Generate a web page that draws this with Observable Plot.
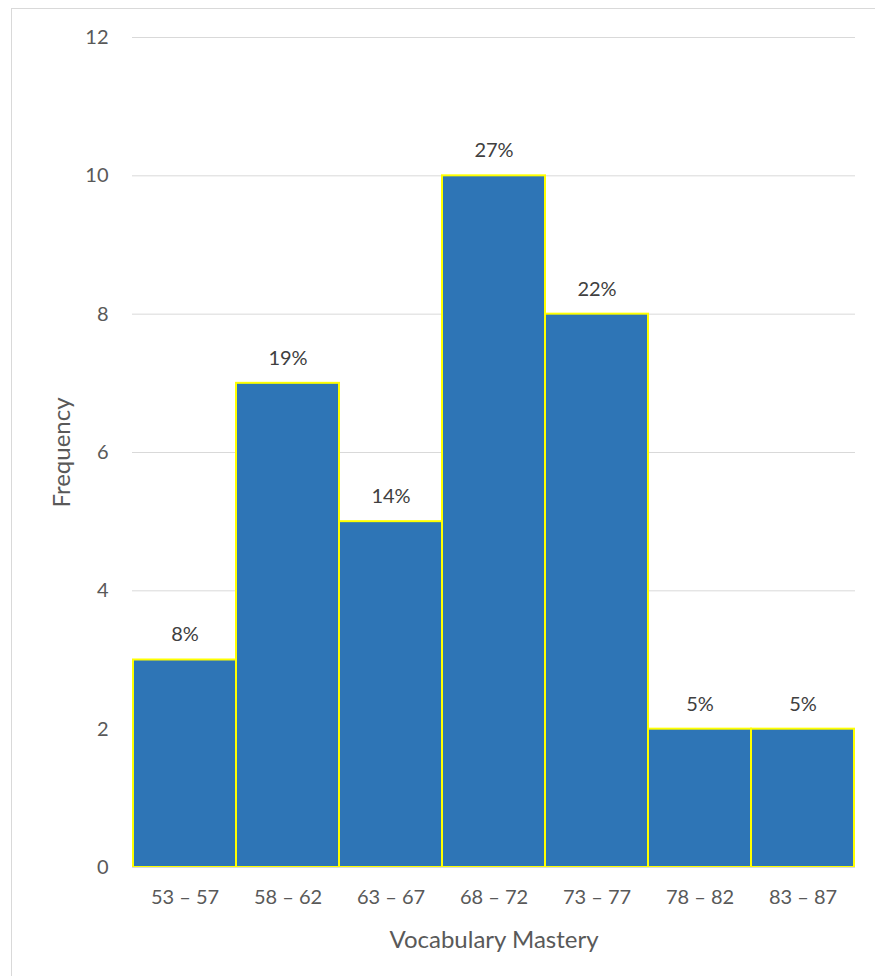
<!DOCTYPE html>
<html>
<head>
<meta charset="utf-8">
<script src="https://cdn.jsdelivr.net/npm/d3@7"></script>
<script src="https://cdn.jsdelivr.net/npm/@observablehq/plot@0.6"></script>
<style>
  html, body { margin: 0; padding: 0; background: #fff; overflow: hidden; }
  #wrap { position: relative; width: 875px; height: 976px; }
  #frame { position: absolute; left: 11px; top: 8px; width: 900px; height: 1000px;
           border: 1px solid #d9d9d9; box-sizing: border-box; pointer-events: none; }
  #chart { position: absolute; left: 0; top: 0; }
</style>
</head>
<body>
<div id="wrap"><div id="chart"></div><div id="frame"></div></div>
<script>
// Score intervals and how many students fall in each
const intervals = ["53 – 57", "58 – 62", "63 – 67", "68 – 72", "73 – 77", "78 – 82", "83 – 87"];
const frequency = [3, 7, 5, 10, 8, 2, 2];
const shareLabels = ["8%", "19%", "14%", "27%", "22%", "5%", "5%"];
const yTicks = [0, 2, 4, 6, 8, 10, 12];

const rows = intervals.map((k, i) => ({interval: k, count: frequency[i], share: shareLabels[i]}));

const textColor = "#595959";
const labelColor = "#404040";
const tickSize = 20;
const titleSize = 24;

const chart = Plot.plot({
  width: 875,
  height: 976,
  marginLeft: 132,
  marginRight: 20,
  marginTop: 37,
  marginBottom: 109,
  style: "font-family: Lato, sans-serif; font-size: 20px; background: transparent;",
  x: {domain: intervals, padding: 0},
  y: {domain: [0, 12]},
  marks: [
    Plot.gridY(yTicks, {stroke: "#d9d9d9", strokeOpacity: 1, strokeWidth: 1}),
    Plot.barY(rows, {x: "interval", y: "count", fill: "#2e75b6", stroke: "#ffff00", strokeWidth: 2, inset: 0}),
    Plot.ruleY([0], {stroke: "#d9d9d9", strokeWidth: 1}),
    Plot.text(rows, {x: "interval", y: "count", text: "share", dy: -25, fill: labelColor,
      fontSize: tickSize, lineAnchor: "middle"}),
    Plot.axisY(yTicks, {tickSize: 0, tickPadding: 24, fill: textColor, tickFormat: "d", fontSize: tickSize, label: null}),
    Plot.axisY({label: "Frequency", ticks: [], tickSize: 0, fill: textColor, fontSize: titleSize,
      labelAnchor: "center", labelArrow: "none", labelOffset: 80}),
    Plot.axisX({tickSize: 0, tickPadding: 22, fill: textColor, fontSize: tickSize, label: null}),
    Plot.axisX({label: "Vocabulary Mastery", ticks: [], tickSize: 0, fill: textColor, fontSize: titleSize,
      labelAnchor: "center", labelArrow: "none", labelOffset: 80})
  ]
});

document.getElementById("chart").appendChild(chart);
</script>
</body>
</html>
